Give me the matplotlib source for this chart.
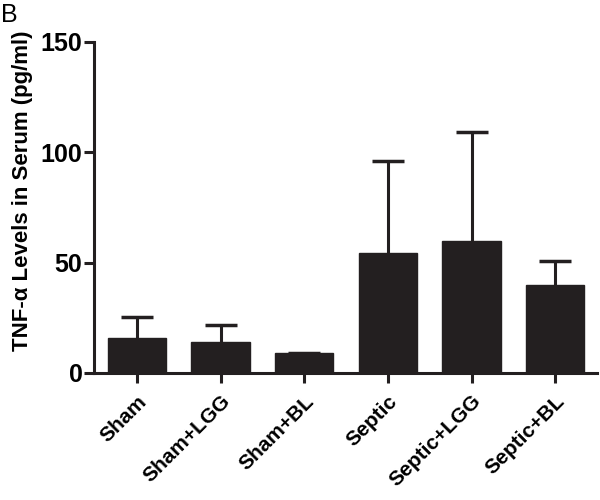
import matplotlib
matplotlib.use("Agg")
import matplotlib.pyplot as plt
import matplotlib.transforms as mtransforms
import numpy as np

categories = ["Sham", "Sham+LGG", "Sham+BL", "Septic", "Septic+LGG", "Septic+BL"]
means = [15.7, 13.9, 8.9, 54.4, 59.9, 39.7]
errors = [9.8, 8.0, 0.3, 41.4, 49.0, 11.0]
yticks = [0, 50, 100, 150]

plt.rcParams['font.family'] = ['Liberation Sans', 'DejaVu Sans']

fig = plt.figure(figsize=(6, 5), dpi=100)
ax = fig.add_axes([0.157, 0.254, 0.838, 0.663])

x = np.arange(len(categories))
ax.bar(x, means, width=0.7, color='#231f20', edgecolor='#231f20', zorder=2)
eb = ax.errorbar(x, means, yerr=[np.zeros(len(errors)), errors], fmt='none',
                 ecolor='#231f20', elinewidth=2.2, capsize=11.5, capthick=2.5, zorder=1)
# one-sided (upward) error bars: hide the lower caps
for cl in eb[1]:
    yd = np.asarray(cl.get_ydata(), dtype=float)
    if np.allclose(yd, means):
        cl.set_visible(False)
    else:
        cl.set_zorder(3)

ax.set_xlim(-0.51, 5.5)
ax.set_ylim(0, 150)
ax.set_yticks(yticks)
ax.set_xticks(x)
ax.set_xticklabels(categories, rotation=45, ha='right', rotation_mode='anchor',
                   fontsize=15, fontweight='bold')
offset = mtransforms.ScaledTranslation(-6 / 100, -8 / 100, fig.dpi_scale_trans)
for lab in ax.get_xticklabels():
    lab.set_transform(lab.get_transform() + offset)
for lab in ax.get_yticklabels():
    lab.set_fontweight('bold')
    lab.set_fontsize(18)
ax.tick_params(axis='both', direction='out', length=7.5, width=2.2, color='#231f20')
ax.tick_params(axis='x', pad=6)
ax.tick_params(axis='y', pad=1)

for s in ['top', 'right']:
    ax.spines[s].set_visible(False)
for s in ['left', 'bottom']:
    ax.spines[s].set_linewidth(2.2)
    ax.spines[s].set_color('#231f20')

ax.set_ylabel("TNF-α Levels in Serum (pg/ml)", fontsize=16, fontweight='bold')
ax.yaxis.set_label_coords(-0.121, 0.55)

fig.text(0.001, 1 - 22 / 500, "B", fontsize=18, ha='left', va='baseline')

fig.savefig("out.png", dpi=100)
